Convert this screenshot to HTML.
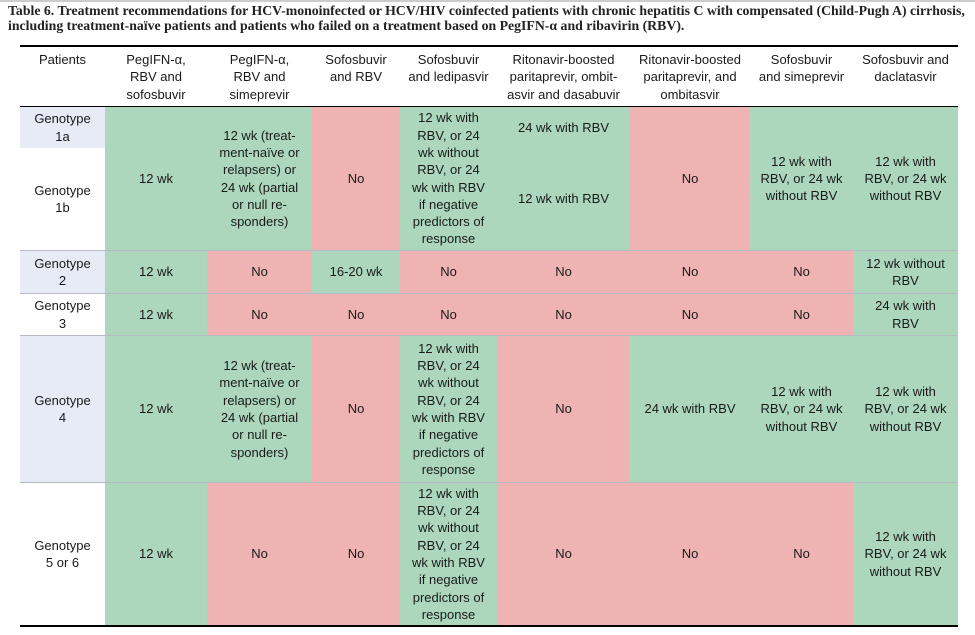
<!DOCTYPE html>
<html><head><meta charset="utf-8"><style>
body{margin:0;width:975px;height:635px;background:#fff;position:relative;overflow:hidden;font-family:"Liberation Sans",Arial,sans-serif;color:#1a1a1a}
.t{position:absolute;left:8px;font-family:"Liberation Serif",serif;font-weight:bold;font-size:13.8px;white-space:nowrap;color:#222}
.c{position:absolute;display:flex;align-items:center;justify-content:center;text-align:center;font-size:13px;line-height:17.3px;box-sizing:border-box;padding:0 3px}
.h{align-items:flex-start;padding-top:4px}
.g{background:#acd7bd}.p{background:#efb3b3}.b{background:#e6ebf6}
.l{position:absolute;left:20px;width:938px}
</style></head><body>
<div style="position:absolute;left:0;top:0;width:975px;height:2px;background:#ccc"></div>
<div class="t" style="top:3px">Table 6. Treatment recommendations for HCV-monoinfected or HCV/HIV coinfected patients with chronic hepatitis C with compensated (Child-Pugh A) cirrhosis,</div>
<div class="t" style="top:18px">including treatment-naïve patients and patients who failed on a treatment based on PegIFN-α and ribavirin (RBV).</div>
<div class="l" style="top:45px;height:2px;background:#000"></div>

<div class="c h" style="left:20px;top:47px;width:85px;height:59px">Patients</div>
<div class="c h" style="left:105px;top:47px;width:102px;height:59px">PegIFN-α,<br>RBV and<br>sofosbuvir</div>
<div class="c h" style="left:207px;top:47px;width:105px;height:59px">PegIFN-α,<br>RBV and<br>simeprevir</div>
<div class="c h" style="left:312px;top:47px;width:88px;height:59px">Sofosbuvir<br>and RBV</div>
<div class="c h" style="left:400px;top:47px;width:97px;height:59px">Sofosbuvir<br>and ledipasvir</div>
<div class="c h" style="left:497px;top:47px;width:133px;height:59px">Ritonavir-boosted<br>paritaprevir, ombit-<br>asvir and dasabuvir</div>
<div class="c h" style="left:630px;top:47px;width:120px;height:59px">Ritonavir-boosted<br>paritaprevir, and<br>ombitasvir</div>
<div class="c h" style="left:750px;top:47px;width:103px;height:59px">Sofosbuvir<br>and simeprevir</div>
<div class="c h" style="left:853px;top:47px;width:105px;height:59px">Sofosbuvir and<br>daclatasvir</div>
<div class="l" style="top:106px;height:1px;background:#000"></div>

<div class="c b" style="left:20px;top:107px;width:85px;height:41px">Genotype<br>1a</div>
<div class="c" style="left:20px;top:148px;width:85px;height:102px">Genotype<br>1b</div>
<div class="c g" style="left:105px;top:107px;width:102px;height:143px">12 wk</div>
<div class="c g" style="left:207px;top:107px;width:105px;height:143px">12 wk (treat-<br>ment-naïve or<br>relapsers) or<br>24 wk (partial<br>or null re-<br>sponders)</div>
<div class="c p" style="left:312px;top:107px;width:88px;height:143px">No</div>
<div class="c g" style="left:400px;top:107px;width:97px;height:143px">12 wk with<br>RBV, or 24<br>wk without<br>RBV, or 24<br>wk with RBV<br>if negative<br>predictors of<br>response</div>
<div class="c g" style="left:497px;top:107px;width:133px;height:41px">24 wk with RBV</div>
<div class="c g" style="left:497px;top:148px;width:133px;height:102px">12 wk with RBV</div>
<div class="c p" style="left:630px;top:107px;width:120px;height:143px">No</div>
<div class="c g" style="left:750px;top:107px;width:103px;height:143px">12 wk with<br>RBV, or 24 wk<br>without RBV</div>
<div class="c g" style="left:853px;top:107px;width:105px;height:143px">12 wk with<br>RBV, or 24 wk<br>without RBV</div>

<div class="c b" style="left:20px;top:251px;width:85px;height:42px">Genotype<br>2</div>
<div class="c g" style="left:105px;top:251px;width:102px;height:42px">12 wk</div>
<div class="c p" style="left:207px;top:251px;width:105px;height:42px">No</div>
<div class="c g" style="left:312px;top:251px;width:88px;height:42px">16-20 wk</div>
<div class="c p" style="left:400px;top:251px;width:97px;height:42px">No</div>
<div class="c p" style="left:497px;top:251px;width:133px;height:42px">No</div>
<div class="c p" style="left:630px;top:251px;width:120px;height:42px">No</div>
<div class="c p" style="left:750px;top:251px;width:103px;height:42px">No</div>
<div class="c g" style="left:853px;top:251px;width:105px;height:42px">12 wk without<br>RBV</div>

<div class="c" style="left:20px;top:294px;width:85px;height:41px">Genotype<br>3</div>
<div class="c g" style="left:105px;top:294px;width:102px;height:41px">12 wk</div>
<div class="c p" style="left:207px;top:294px;width:105px;height:41px">No</div>
<div class="c p" style="left:312px;top:294px;width:88px;height:41px">No</div>
<div class="c p" style="left:400px;top:294px;width:97px;height:41px">No</div>
<div class="c p" style="left:497px;top:294px;width:133px;height:41px">No</div>
<div class="c p" style="left:630px;top:294px;width:120px;height:41px">No</div>
<div class="c p" style="left:750px;top:294px;width:103px;height:41px">No</div>
<div class="c g" style="left:853px;top:294px;width:105px;height:41px">24 wk with<br>RBV</div>

<div class="c b" style="left:20px;top:336px;width:85px;height:146px">Genotype<br>4</div>
<div class="c g" style="left:105px;top:336px;width:102px;height:146px">12 wk</div>
<div class="c g" style="left:207px;top:336px;width:105px;height:146px">12 wk (treat-<br>ment-naïve or<br>relapsers) or<br>24 wk (partial<br>or null re-<br>sponders)</div>
<div class="c p" style="left:312px;top:336px;width:88px;height:146px">No</div>
<div class="c g" style="left:400px;top:336px;width:97px;height:146px">12 wk with<br>RBV, or 24<br>wk without<br>RBV, or 24<br>wk with RBV<br>if negative<br>predictors of<br>response</div>
<div class="c p" style="left:497px;top:336px;width:133px;height:146px">No</div>
<div class="c g" style="left:630px;top:336px;width:120px;height:146px">24 wk with RBV</div>
<div class="c g" style="left:750px;top:336px;width:103px;height:146px">12 wk with<br>RBV, or 24 wk<br>without RBV</div>
<div class="c g" style="left:853px;top:336px;width:105px;height:146px">12 wk with<br>RBV, or 24 wk<br>without RBV</div>

<div class="c" style="left:20px;top:483px;width:85px;height:142px">Genotype<br>5 or 6</div>
<div class="c g" style="left:105px;top:483px;width:102px;height:142px">12 wk</div>
<div class="c p" style="left:207px;top:483px;width:105px;height:142px">No</div>
<div class="c p" style="left:312px;top:483px;width:88px;height:142px">No</div>
<div class="c g" style="left:400px;top:483px;width:97px;height:142px">12 wk with<br>RBV, or 24<br>wk without<br>RBV, or 24<br>wk with RBV<br>if negative<br>predictors of<br>response</div>
<div class="c p" style="left:497px;top:483px;width:133px;height:142px">No</div>
<div class="c p" style="left:630px;top:483px;width:120px;height:142px">No</div>
<div class="c p" style="left:750px;top:483px;width:103px;height:142px">No</div>
<div class="c g" style="left:853px;top:483px;width:105px;height:142px">12 wk with<br>RBV, or 24 wk<br>without RBV</div>

<div class="l" style="top:250px;height:1px;background:#b5bac3"></div>
<div class="l" style="top:293px;height:1px;background:#b5bac3"></div>
<div class="l" style="top:335px;height:1px;background:#b5bac3"></div>
<div class="l" style="top:482px;height:1px;background:#b5bac3"></div>
<div class="l" style="top:625px;height:2px;background:#000"></div>
</body></html>
